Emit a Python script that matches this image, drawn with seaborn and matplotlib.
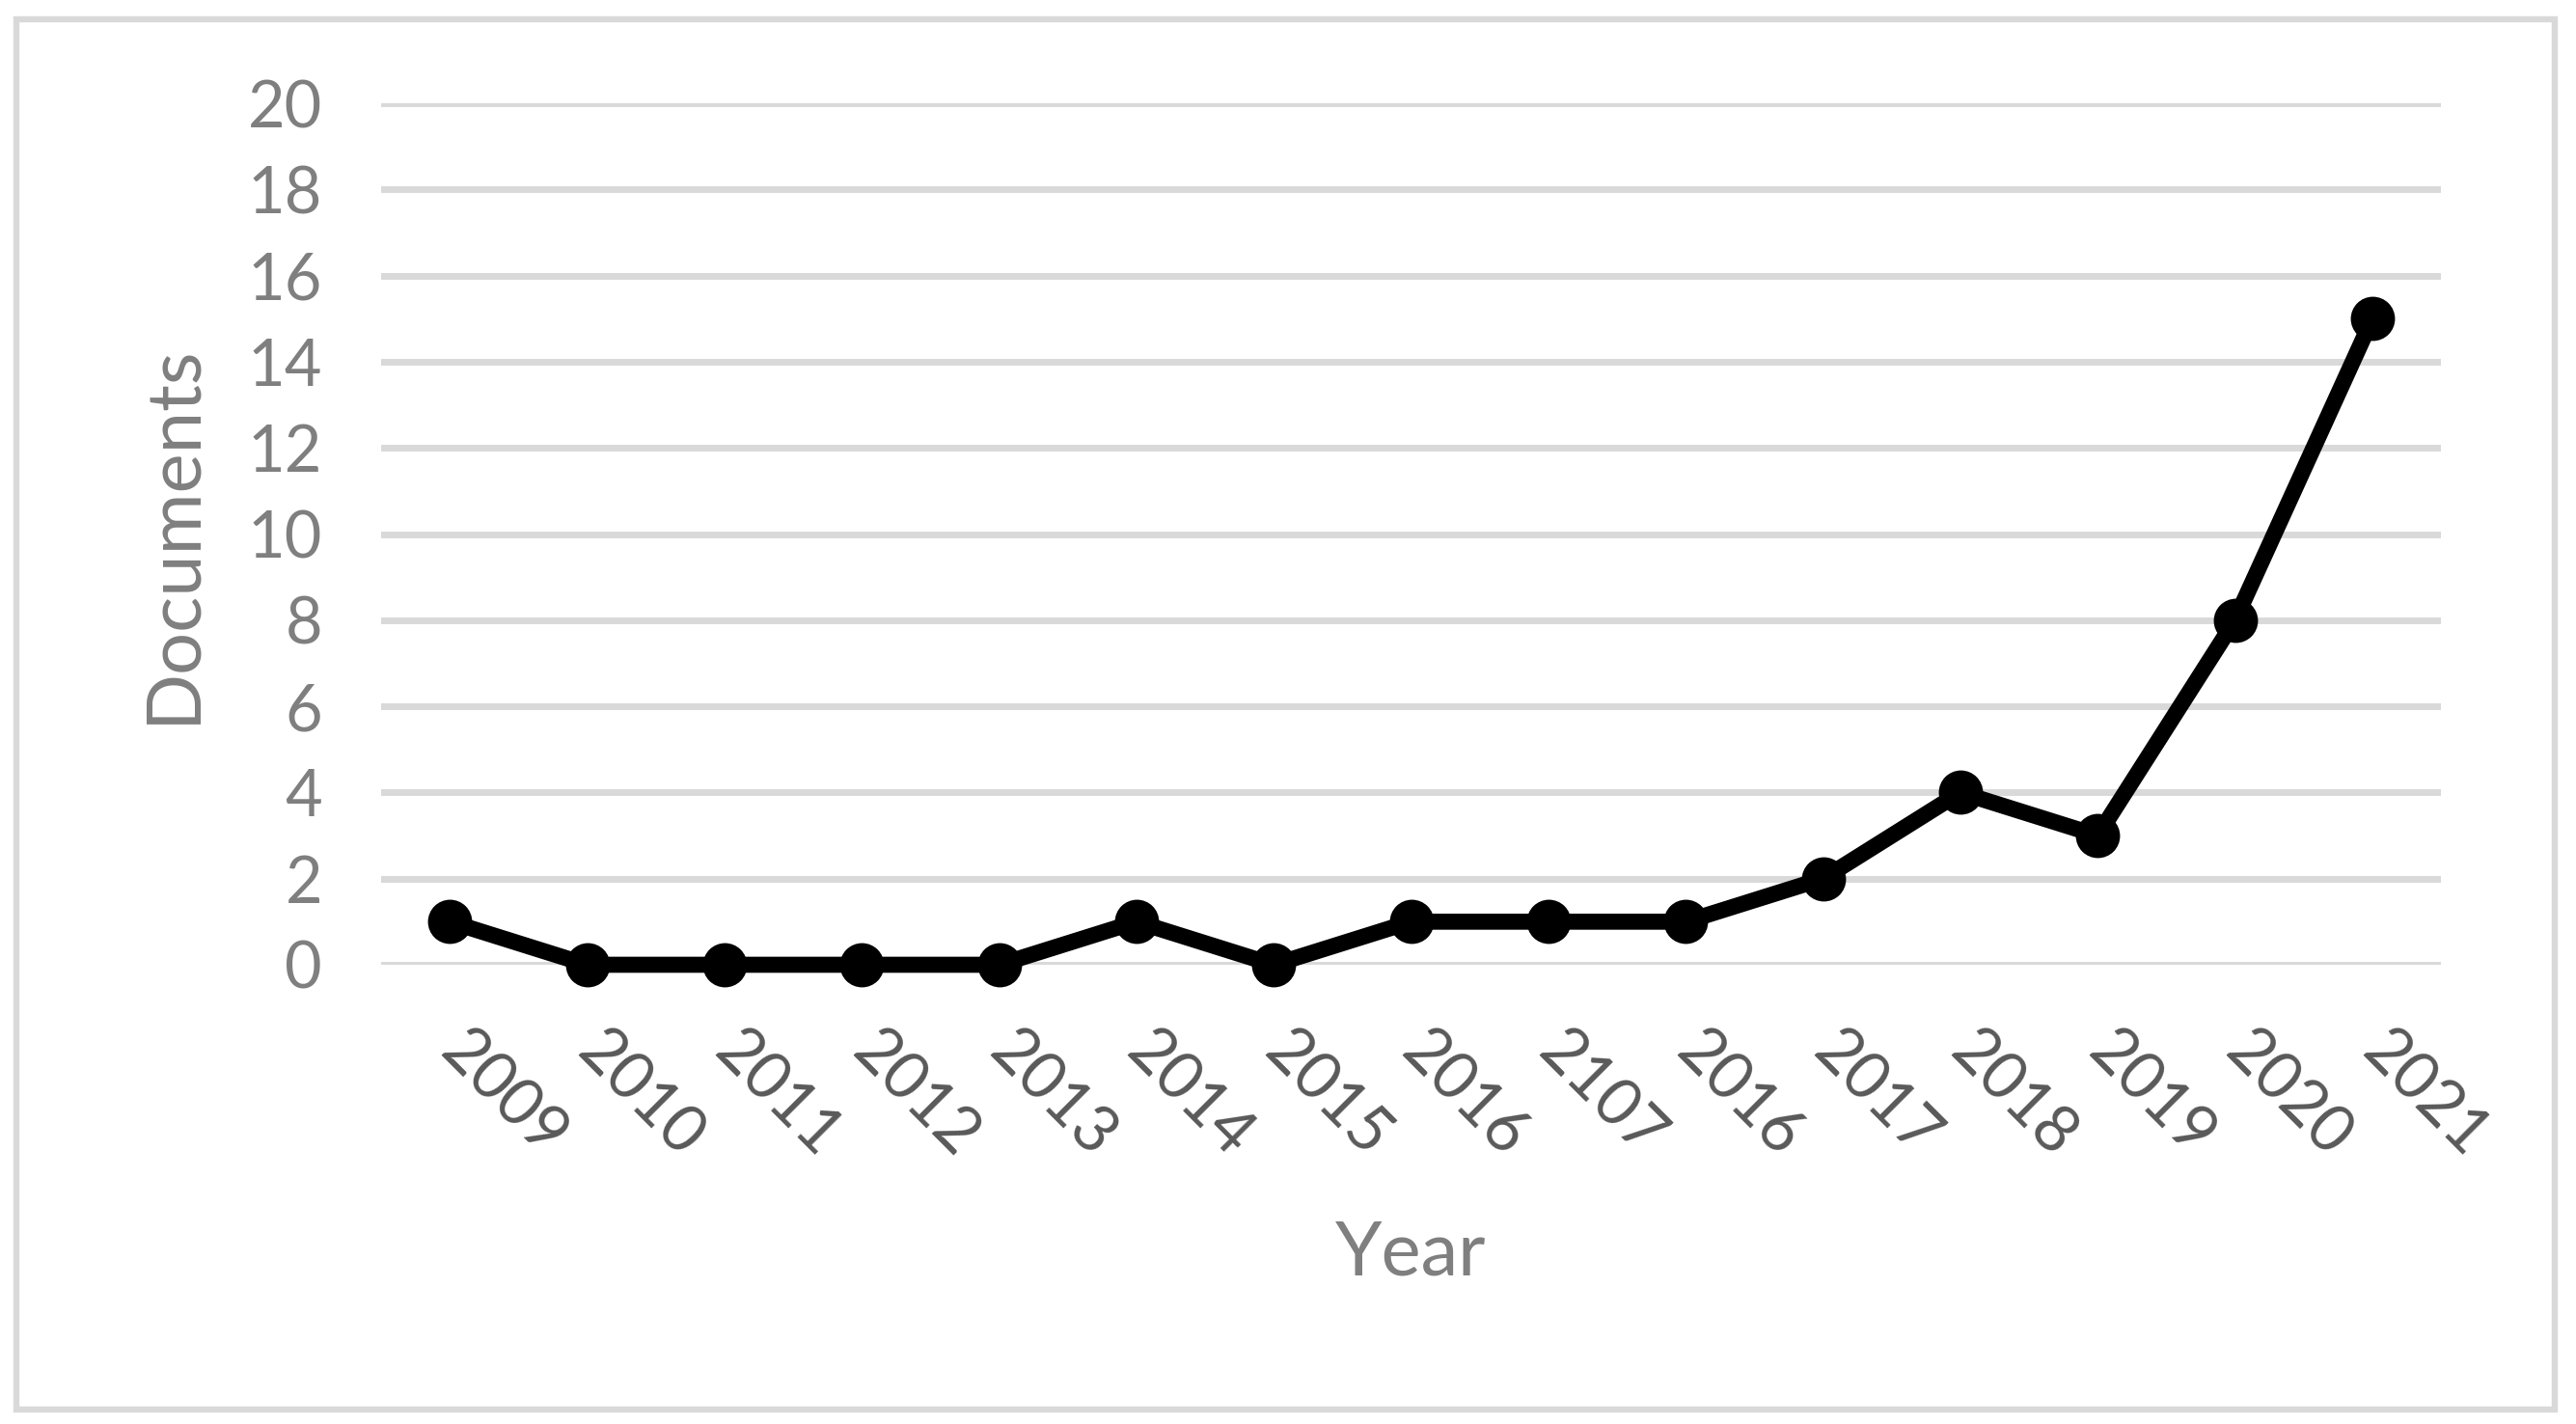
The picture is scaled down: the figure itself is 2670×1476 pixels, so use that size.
import matplotlib
matplotlib.use("Agg")
import matplotlib.pyplot as plt
from matplotlib.patches import Rectangle
import seaborn as sns
import pandas as pd

# datos (las etiquetas se copian tal cual, incluso "2107" y el "2016" repetido)
year_labels = ["2009", "2010", "2011", "2012", "2013", "2014", "2015", "2016",
               "2107", "2016", "2017", "2018", "2019", "2020", "2021"]
documents = [1, 0, 0, 0, 0, 1, 0, 1, 1, 1, 2, 4, 3, 8, 15]
y_ticks = [0, 2, 4, 6, 8, 10, 12, 14, 16, 18, 20]

df = pd.DataFrame({"pos": range(len(year_labels)), "docs": documents})

sns.set_theme(style="white")
plt.rcParams["font.family"] = ["Lato", "DejaVu Sans"]

fig = plt.figure(figsize=(13.35, 7.38), dpi=200)
ax = fig.add_axes([0.148, 0.3225, 0.7996, 0.605])

sns.lineplot(data=df, x="pos", y="docs", ax=ax, color="black", linewidth=6,
             marker="o", markersize=16.5, markeredgewidth=0, clip_on=False, zorder=3)

ax.set_xlim(-0.5, len(year_labels) - 0.5)
ax.set_ylim(0, 20)
ax.set_yticks(y_ticks)
ax.set_xticks(range(len(year_labels)))
ax.set_xticklabels(year_labels, rotation=-45, ha="left", va="center",
                   rotation_mode="anchor", color="#595959", fontsize=24)
ax.tick_params(axis="y", labelsize=24, labelcolor="#7f7f7f", length=0, pad=22)
ax.tick_params(axis="x", length=0, pad=29)

ax.grid(axis="y", color="#d9d9d9", linewidth=2.5)
ax.set_axisbelow(True)
for s in ax.spines.values():
    s.set_visible(False)

ax.set_ylabel("Documents", fontsize=28, color="#7f7f7f", va="center")
ax.yaxis.set_label_coords(-0.101, 0.5)
ax.set_xlabel("Year", fontsize=28, color="#7f7f7f", va="center")
ax.xaxis.set_label_coords(0.5, -0.336)

# marco gris alrededor de la figura
fig.add_artist(Rectangle((17 / 2670, 1 - 1461 / 1476), (2648 - 17) / 2670, (1461 - 20) / 1476,
                         transform=fig.transFigure, fill=False, edgecolor="#d9d9d9", linewidth=2.3))

plt.savefig("out.png", dpi=200)
